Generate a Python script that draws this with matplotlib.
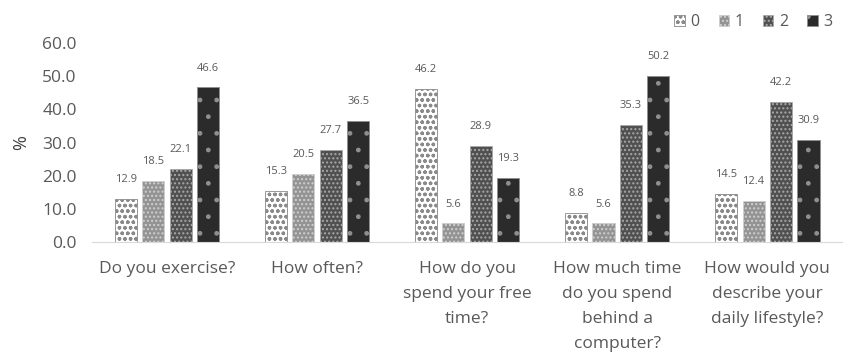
import matplotlib.pyplot as plt
import numpy as np

plt.rcParams['font.family'] = ['Open Sans', 'DejaVu Sans']
plt.rcParams['hatch.linewidth'] = 1.0

# dados
categories = ['Do you exercise?', 'How often?', 'How do you\nspend your free\ntime?',
              'How much time\ndo you spend\nbehind a\ncomputer?',
              'How would you\ndescribe your\ndaily lifestyle?']
series_names = ['0', '1', '2', '3']
vals_0 = [12.9, 15.3, 46.2, 8.8, 14.5]
vals_1 = [18.5, 20.5, 5.6, 5.6, 12.4]
vals_2 = [22.1, 27.7, 28.9, 35.3, 42.2]
vals_3 = [46.6, 36.5, 19.3, 50.2, 30.9]
yticks = [0, 10, 20, 30, 40, 50, 60]

fig = plt.figure(figsize=(8.44, 3.59), dpi=100)
ax = fig.add_axes([0.109, 0.326, 0.889, 0.554])

series = [vals_0, vals_1, vals_2, vals_3]
faces = ['white', '#939393', '#505050', '#2b2b2b']
hatch_colors = ['#8a8a8a', '#cfcfcf', '#a8a8a8', '#8f8f8f']
hatches = ['ooo', '....', '....', '.']

x = np.arange(len(categories))
w = 0.147
step = 0.183
offs = [-1.5, -0.5, 0.5, 1.5]
for s, name, fc, hc, h, o in zip(series, series_names, faces, hatch_colors, hatches, offs):
    bars = ax.bar(x + o * step, s, w, color=fc, edgecolor=hc, hatch=h,
                  linewidth=0.6, label=name)
    for b, v in zip(bars, s):
        ax.annotate(f'{v:.1f}', (b.get_x() + b.get_width() / 2, v), xytext=(0, 10),
                    textcoords='offset points', ha='center', va='bottom',
                    fontsize=8, color='#595959')

ax.set_ylim(0, 60)
ax.set_xlim(-0.5, len(categories) - 0.5)
ax.set_yticks(yticks)
ax.set_yticklabels([f'{t:.1f}' for t in yticks], fontsize=12.5, color='#595959')
ax.set_xticks(x)
ax.set_xticklabels(categories, fontsize=12.5, color='#595959', linespacing=1.75)
ax.tick_params(axis='both', length=0)
ax.tick_params(axis='x', pad=14)
ax.tick_params(axis='y', pad=11)
for sp in ['top', 'right', 'left']:
    ax.spines[sp].set_visible(False)
ax.spines['bottom'].set_color('#d9d9d9')
ax.set_ylabel('%', fontsize=13, color='#404040', labelpad=9)

fig.legend(loc='upper left', bbox_to_anchor=(0.782, 1.0), ncol=4, frameon=False,
           fontsize=11.5, handlelength=0.65, handleheight=0.65, handletextpad=0.35,
           columnspacing=1.2, labelcolor='#595959')

fig.savefig('out.png', dpi=100)
